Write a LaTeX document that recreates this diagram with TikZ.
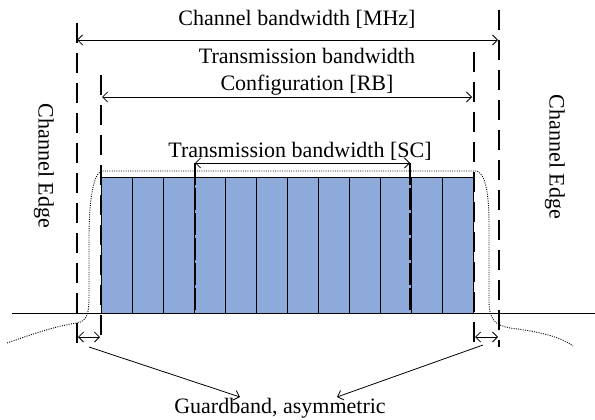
\documentclass[tikz,border=0pt]{standalone}
\usepackage{fontspec}
\setmainfont{Liberation Serif}
\usetikzlibrary{arrows.meta}

\definecolor{cellblue}{RGB}{142,170,219}

\tikzset{
	edgeline/.style={line width=2.2pt, dash pattern=on 20pt off 10pt},
	scline/.style={line width=2pt, dash pattern=on 22pt off 3pt},
	bwarrow/.style={line width=0.8pt, arrows={Straight Barb[length=5pt,width=10pt]-Straight Barb[length=5pt,width=10pt]}},
	gbarrow/.style={line width=0.8pt, -{Straight Barb[length=5pt,width=10pt]}},
	bwtext/.style={font=\fontsize{22}{27}\selectfont, inner sep=0pt, align=center},
	cell/.style={fill=cellblue, draw=black, line width=0.8pt},
	envelope/.style={line width=0.9pt, dash pattern=on 1pt off 1.3pt},
}

\begin{document}
\begin{tikzpicture}[x=1pt, y=-1pt]
	\useasboundingbox (0,0) rectangle (595,420);

	% resource blocks
	\foreach \i in {0,...,11}
		\draw[cell] (101+31*\i,177) rectangle ++(31,136);

	% zero line
	\draw[line width=0.9pt] (12,313) -- (595,313);

	% spectrum envelope
	\draw[envelope] (7,343) .. controls (30,335) and (55,326) .. (77,323)
		.. controls (88,321) and (89,312) .. (89,295) -- (89,240)
		.. controls (89,200) and (93,176) .. (101,171) -- (477,171)
		.. controls (486,175) and (489,195) .. (489,225) -- (489,300)
		.. controls (489,320) and (495,325) .. (510,328)
		.. controls (535,331) and (560,336) .. (573,346);

	% edges
	\coordinate (chLtop) at (77,23);
	\coordinate (chLbot) at (77,347);
	\coordinate (chRtop) at (499,10);
	\coordinate (chRbot) at (499,347);
	\coordinate (rbLtop) at (101,75);
	\coordinate (rbLbot) at (101,345);
	\coordinate (rbRtop) at (474,52);
	\coordinate (rbRbot) at (474,345);
	\draw[edgeline] (chLtop) -- (chLbot);
	\draw[edgeline] (chRtop) -- (chRbot);
	\draw[edgeline] (rbLtop) -- (rbLbot);
	\draw[edgeline] (rbRtop) -- (rbRbot);

	% subcarrier edges
	\coordinate (scLtop) at (195,163);
	\coordinate (scLbot) at (195,313);
	\coordinate (scRtop) at (410,163);
	\coordinate (scRbot) at (410,313);
	\draw[scline] (scLtop) -- (scLbot);
	\draw[scline] (scRtop) -- (scRbot);

	% bandwidth arrows
	\coordinate (chA) at (77,40);
	\coordinate (chB) at (498,40);
	\coordinate (rbA) at (102,97);
	\coordinate (rbB) at (472,97);
	\draw[bwarrow] (chA) -- (chB);
	\draw[bwarrow] (rbA) -- (rbB);
	\draw[bwarrow] (scLtop) -- (scRtop);

	\node[bwtext] (chbw) at (297,19) {Channel bandwidth [MHz]};
	\node[bwtext] (rbbw) at (307,72) {Transmission bandwidth\\Configuration [RB]};
	\node[bwtext] (scbw) at (300,151) {Transmission bandwidth [SC]};

	\node[bwtext, rotate=-90] (edgeL) at (44,166) {Channel Edge};
	\node[bwtext, rotate=-90] (edgeR) at (555,157) {Channel Edge};

	% guard bands
	\coordinate (gbLa) at (78,337);
	\coordinate (gbLb) at (100,337);
	\coordinate (gbRa) at (475,337);
	\coordinate (gbRb) at (498,337);
	\draw[bwarrow] (gbLa) -- (gbLb);
	\draw[bwarrow] (gbRa) -- (gbRb);

	\node[bwtext] (guard) at (280,408) {Guardband, asymmetric};
	\coordinate (gbLfrom) at (89,347);
	\coordinate (gbLto) at (240,397);
	\coordinate (gbRfrom) at (483,345);
	\coordinate (gbRto) at (337,397);
	\draw[gbarrow] (gbLfrom) -- (gbLto);
	\draw[gbarrow] (gbRfrom) -- (gbRto);
\end{tikzpicture}
\end{document}
